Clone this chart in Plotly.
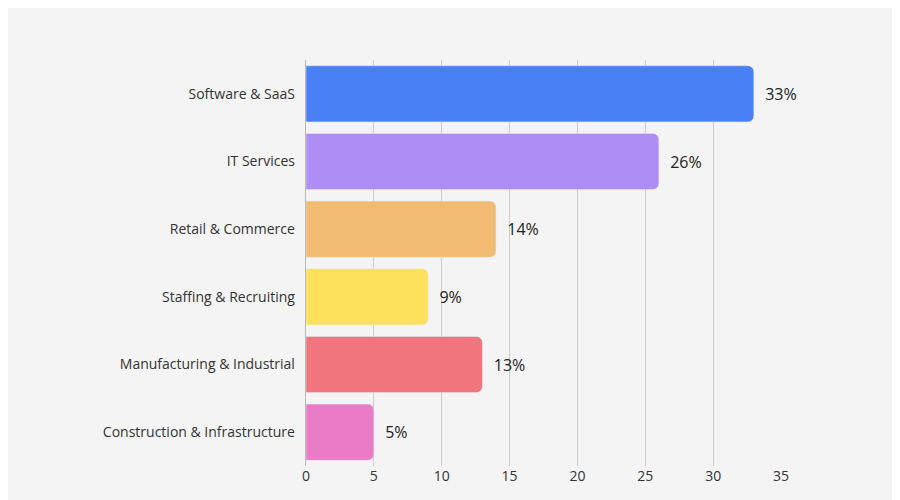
import plotly.graph_objects as go

categories = ["Software & SaaS", "IT Services", "Retail & Commerce", "Staffing & Recruiting",
              "Manufacturing & Industrial", "Construction & Infrastructure"]
values = [33, 26, 14, 9, 13, 5]
colors = ["#4a80f5", "#ae8ef4", "#f2bb73", "#fde05c", "#f0757d", "#e97bc7"]

fig = go.Figure(go.Bar(
    x=values, y=categories, orientation="h",
    marker=dict(color=colors, cornerradius=6),
    text=[f"  {v}%" for v in values], textposition="outside",
    textfont=dict(size=16, color="#222"), cliponaxis=False,
))
fig.update_layout(
    width=900, height=500,
    paper_bgcolor="#f4f4f4", plot_bgcolor="#f4f4f4",
    margin=dict(l=298, r=127, t=52, b=42),
    font=dict(family="Open Sans, sans-serif", size=14, color="#333"),
    bargap=0.17, showlegend=False,
    xaxis=dict(range=[0, 35], dtick=5, showgrid=True, gridcolor="#cccccc",
               zeroline=False, showline=False, ticks=""),
    yaxis=dict(autorange="reversed", showline=True, linecolor="#bbbbbb",
               ticks="", ticksuffix="  "),
)
fig.write_html("out.html")
